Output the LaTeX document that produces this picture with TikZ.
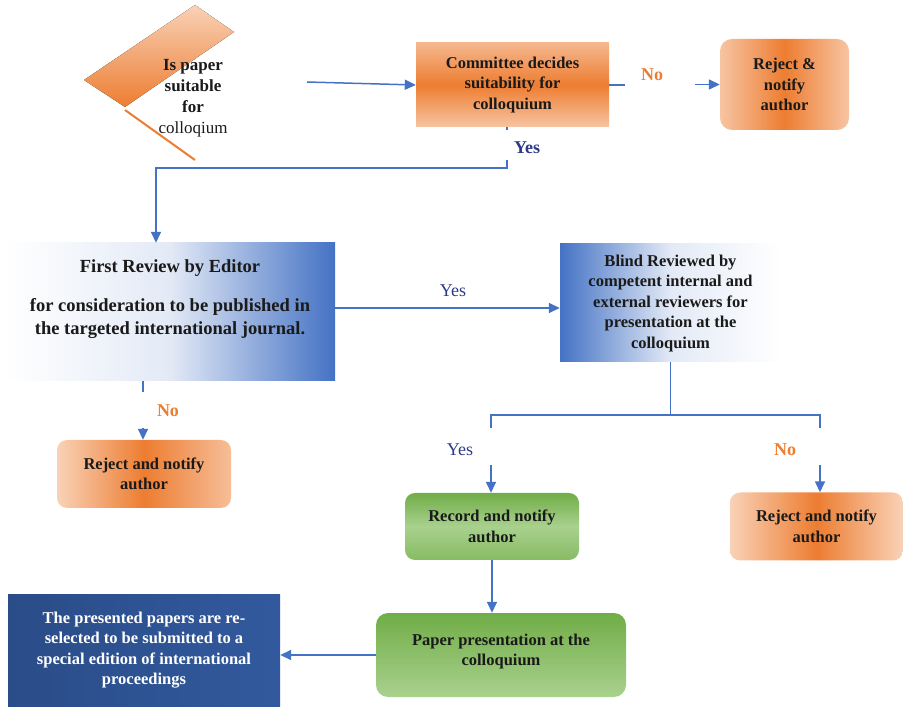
\documentclass[tikz,border=0pt]{standalone}
\usepackage{fontspec}
\setmainfont{Liberation Serif}
\usepackage{xcolor}
\usetikzlibrary{arrows.meta,calc}
\definecolor{orangeA}{RGB}{237,125,49}
\definecolor{blueA}{RGB}{68,114,196}
\definecolor{navyA}{RGB}{47,85,151}
\definecolor{greenD}{RGB}{112,173,71}
\definecolor{greenL}{RGB}{169,209,142}
\definecolor{yesblue}{RGB}{46,58,135}
\definecolor{txt}{RGB}{26,26,26}

\begin{document}
\begin{tikzpicture}[x=1pt,y=-1pt,
    box/.style={rectangle,align=center,font=\bfseries\fontsize{16.5}{20.5}\selectfont,text=txt,inner sep=2pt},
    flow/.style={blueA,line width=1.5pt,-{Triangle[width=10pt,length=11pt]}},
    wire/.style={blueA,line width=1.5pt},
    yesb/.style={text=yesblue,font=\bfseries\fontsize{18}{20}\selectfont},
    yesr/.style={text=yesblue,font=\fontsize{18}{20}\selectfont},
    nolbl/.style={text=orangeA,font=\bfseries\fontsize{18}{20}\selectfont}]
    \useasboundingbox (0,0) rectangle (903,708);

    % broken decision shape
    \fill[top color=orangeA!35,bottom color=orangeA] (84,80) -- (195,5) -- (234,32) -- (125,107) -- cycle;
    \draw[orangeA,line width=2pt] (125,110) -- (195,160);
    \node[box,font=\bfseries\fontsize{17}{21}\selectfont] (suit) at (193,98) {Is paper\\ suitable\\ for\\ \mdseries colloqium};

    \node[box,minimum width=193pt,minimum height=84pt,top color=orangeA!55,bottom color=orangeA!45,middle color=orangeA] (comm) at (512.5,85) {Committee decides\\ suitability for\\ colloquium};
    \node[box,rounded corners=12pt,minimum width=129pt,minimum height=91pt,left color=orangeA!45,right color=orangeA!45,middle color=orangeA] (rej1) at (784.5,84.5) {Reject \&\\ notify\\ author};

    \node[box,font=\bfseries\fontsize{18.5}{23}\selectfont,minimum width=330pt,minimum height=138pt,left color=white,right color=blueA,middle color=blueA!15] (fr) at (170,312) {First Review by Editor\\[16pt] for consideration to be published in\\ the targeted international journal.\\[6pt]\mbox{}};
    \node[box,minimum width=221pt,minimum height=118pt,left color=blueA,right color=white,middle color=blueA!15] (blind) at (670.5,303) {\mbox{}\\[-8.5pt] Blind Reviewed by\\ competent internal and\\ external reviewers for\\ presentation at the\\ colloquium};

    \node[box,rounded corners=10pt,minimum width=174pt,minimum height=68pt,left color=orangeA!35,right color=orangeA!50,middle color=orangeA] (rej2) at (144,474) {Reject and notify\\ author};
    \node[box,rounded corners=10pt,minimum width=174pt,minimum height=67pt,top color=greenD,bottom color=greenD!60!greenL,middle color=greenL] (rec) at (492,526.5) {Record and notify\\ author};
    \node[box,rounded corners=10pt,minimum width=173pt,minimum height=68pt,left color=orangeA!35,right color=orangeA!35,middle color=orangeA] (rej3) at (816.5,526.5) {Reject and notify\\ author};

    \node[box,rounded corners=12pt,minimum width=250pt,minimum height=84pt,top color=greenD,bottom color=greenL] (pres) at (501,655) {Paper presentation at the\\ colloquium\\[-10.5pt]\mbox{}};
    \node[box,text=white,minimum width=272pt,minimum height=112pt,left color=navyA!90!black,right color=navyA!85!blueA] (final) at (144,650) {The presented papers are re-\\ selected to be submitted to a\\ special edition of international\\ proceedings};

    % labels
    \node[nolbl] (no1) at (652,75) {No};
    \node[yesb] (yes1) at (527,148) {Yes};
    \node[yesr] (yes2) at (453,291) {Yes};
    \node[nolbl] (no2) at (168,411) {No};
    \node[yesr] (yes3) at (460,450) {Yes};
    \node[nolbl] (no3) at (785,450) {No};

    % connectors
    \coordinate (d1) at (307,82);
    \draw[flow] (d1) -- (comm.west);
    \draw[wire] (comm.east) -- ++(16,0);
    \coordinate (n1) at (695,84.5);
    \draw[flow] (n1) -- (rej1.west);
    \draw[wire] ($(comm.south)+(-5.5,0)$) -- ++(0,3);
    \coordinate (y1) at (507,160);
    \draw[flow] (y1) -- (507,168) -| ($(fr.north)+(-14,0)$);
    \draw[flow] ($(fr.east)+(0,-4)$) -- ($(blind.west)+(0,5)$);
    \draw[wire] ($(fr.south)+(-27,0)$) -- ++(0,11);
    \coordinate (n2) at (143,428);
    \draw[flow] (n2) -- (n2 |- rej2.north);
    \draw[wire] (blind.south) -- ++(0,53) coordinate (br);
    \draw[wire] (br) -| (491,428);
    \draw[wire] (br) -| (820,428);
    \coordinate (y3) at (491,465);
    \draw[flow] (y3) -- (y3 |- rec.north);
    \coordinate (n3) at (820,465);
    \draw[flow] (n3) -- (n3 |- rej3.north);
    \draw[flow] (rec.south) -- (rec.south |- pres.north);
    \draw[flow] (pres.west) -- (pres.west -| final.east);
\end{tikzpicture}
\end{document}
